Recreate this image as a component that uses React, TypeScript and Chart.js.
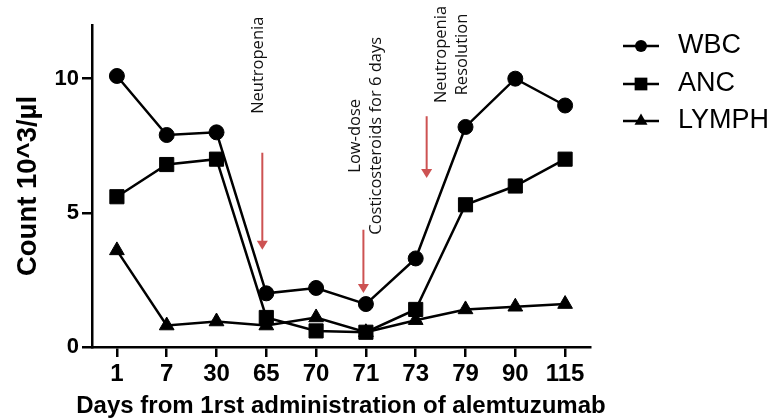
import React, { useEffect, useRef } from 'react';
import { Chart, registerables } from 'chart.js';

Chart.register(...registerables);

// ---- data ----
const days = ['1', '7', '30', '65', '70', '71', '73', '79', '90', '115'];
const wbc = [10.1, 7.9, 8.0, 2.0, 2.2, 1.6, 3.3, 8.2, 10.0, 9.0];
const anc = [5.6, 6.8, 7.0, 1.1, 0.6, 0.55, 1.4, 5.3, 6.0, 7.0];
const lymph = [3.6, 0.8, 0.95, 0.8, 1.1, 0.55, 1.0, 1.4, 1.5, 1.6];
const seriesNames = ['WBC', 'ANC', 'LYMPH'];
const yTicks = [0, 5, 10];
const xTitle = 'Days from 1rst administration of alemtuzumab';
const yTitle = 'Count 10^3/µl';

// annotations (in data units: category index, y value)
const noteLines = [['Neutropenia'], ['Low-dose', 'Costicosteroids for 6 days'], ['Neutropenia', 'Resolution']];
const noteX = [2.83, 4.99, 6.73];
const noteY = [10.5, 7.87, 10.9];
const arrowX = [2.92, 4.95, 6.22];
const arrowFrom = [7.24, 4.37, 8.6];
const arrowTo = [3.62, 2.01, 6.3];

const FONT = "'Liberation Sans', Arial, sans-serif";
const NOTE_FONT = "'Open Sans', 'Liberation Sans', sans-serif";
const RED = 'rgb(205, 82, 82)';

function drawMarker(ctx: CanvasRenderingContext2D, style: string, x: number, y: number, r: number) {
  ctx.beginPath();
  if (style === 'circle') {
    ctx.arc(x, y, r, 0, Math.PI * 2);
  } else if (style === 'rect') {
    const s = r * Math.SQRT1_2;
    ctx.rect(x - s, y - s, 2 * s, 2 * s);
  } else {
    const w = r * Math.sin(Math.PI / 3);
    ctx.moveTo(x, y - r);
    ctx.lineTo(x + w, y + r / 2);
    ctx.lineTo(x - w, y + r / 2);
    ctx.closePath();
  }
  ctx.fill();
}

const overlayPlugin = {
  id: 'overlay',
  afterDraw(chart: any) {
    const ctx: CanvasRenderingContext2D = chart.ctx;
    const xs = chart.scales.x;
    const ys = chart.scales.y;
    const area = chart.chartArea;
    ctx.save();
    // x axis title
    ctx.fillStyle = '#000';
    ctx.font = `bold 24px ${FONT}`;
    ctx.textAlign = 'center';
    ctx.textBaseline = 'middle';
    ctx.fillText(xTitle, (area.left + area.right) / 2, 406);
    // arrows
    ctx.strokeStyle = RED;
    ctx.fillStyle = RED;
    ctx.lineWidth = 2;
    arrowX.forEach((ax, i) => {
      const px = xs.getPixelForValue(ax);
      const y1 = ys.getPixelForValue(arrowFrom[i]);
      const y2 = ys.getPixelForValue(arrowTo[i]);
      ctx.beginPath();
      ctx.moveTo(px, y1);
      ctx.lineTo(px, y2 - 8);
      ctx.stroke();
      ctx.beginPath();
      ctx.moveTo(px - 5.5, y2 - 9);
      ctx.lineTo(px + 5.5, y2 - 9);
      ctx.lineTo(px, y2);
      ctx.closePath();
      ctx.fill();
    });
    // notes
    ctx.fillStyle = '#111';
    ctx.font = `16.5px ${NOTE_FONT}`;
    ctx.textAlign = 'center';
    ctx.textBaseline = 'middle';
    const lh = 21;
    noteLines.forEach((lines, i) => {
      const cx = xs.getPixelForValue(noteX[i]);
      const cy = ys.getPixelForValue(noteY[i]);
      ctx.save();
      ctx.translate(cx, cy);
      ctx.rotate(-Math.PI / 2);
      lines.forEach((t, j) => {
        const off = (j - (lines.length - 1) / 2) * lh;
        ctx.fillText(t, 0, off);
      });
      ctx.restore();
    });
    // legend
    const legendRows = [46, 84, 121];
    const radii = [6, 9, 7.5];
    chart.data.datasets.forEach((ds: any, i: number) => {
      const y = legendRows[i];
      ctx.strokeStyle = '#000';
      ctx.lineWidth = 2.5;
      ctx.beginPath();
      ctx.moveTo(623, y);
      ctx.lineTo(659, y);
      ctx.stroke();
      ctx.fillStyle = '#000';
      drawMarker(ctx, ds.pointStyle, 641, y, radii[i]);
      ctx.font = `27px ${FONT}`;
      ctx.textAlign = 'left';
      ctx.textBaseline = 'middle';
      ctx.fillText(ds.label, 678, y);
    });
    ctx.restore();
  },
};

export default function App() {
  const ref = useRef<HTMLCanvasElement | null>(null);
  useEffect(() => {
    if (!ref.current) return;
    const mk = (label: string, data: number[], style: string, r: number) => ({
      label,
      data,
      borderColor: '#000',
      backgroundColor: '#000',
      borderWidth: 2.5,
      pointStyle: style,
      pointRadius: r,
      pointBorderWidth: 1,
      pointBackgroundColor: '#000',
      pointBorderColor: '#000',
      tension: 0,
      fill: false,
    });
    const chart = new Chart(ref.current, {
      type: 'line',
      data: {
        labels: days,
        datasets: [
          mk(seriesNames[0], wbc, 'circle', 7.5),
          mk(seriesNames[1], anc, 'rect', 10),
          mk(seriesNames[2], lymph, 'triangle', 8.5),
        ],
      },
      options: {
        responsive: false,
        animation: false,
        layout: { padding: { top: 25, right: 182, bottom: 0, left: 0 } },
        plugins: { legend: { display: false }, tooltip: { enabled: false } },
        scales: {
          x: {
            type: 'category',
            offset: true,
            grid: { display: true, drawOnChartArea: false, drawTicks: true, tickLength: 10, color: '#000', lineWidth: 2.5 },
            border: { display: true, color: '#000', width: 2.5 },
            ticks: { color: '#000', font: { family: FONT, size: 24, weight: 'bold' }, padding: 3, maxRotation: 0, autoSkip: false },
            afterFit: (s: any) => { s.height = 73; },
          },
          y: {
            min: 0,
            max: 12,
            grid: { display: true, drawOnChartArea: false, drawTicks: true, tickLength: 10, color: '#000', lineWidth: 2.5 },
            border: { display: true, color: '#000', width: 2.5 },
            ticks: { color: '#000', font: { family: FONT, size: 22, weight: 'bold' }, padding: 3 },
            afterBuildTicks: (s: any) => { s.ticks = yTicks.map((v) => ({ value: v })); },
            title: {
              display: true,
              text: yTitle,
              color: '#000',
              font: { family: FONT, size: 27.5, weight: 'bold' },
              padding: { top: 12, bottom: 0 },
            },
            afterFit: (s: any) => { s.width = 92; },
          },
        },
      } as any,
      plugins: [overlayPlugin],
    });
    return () => chart.destroy();
  }, []);
  return (
    <div style={{ position: 'fixed', left: 0, top: 0, width: 772, height: 420, background: '#fff' }}>
      <canvas ref={ref} width={772} height={420} />
    </div>
  );
}
